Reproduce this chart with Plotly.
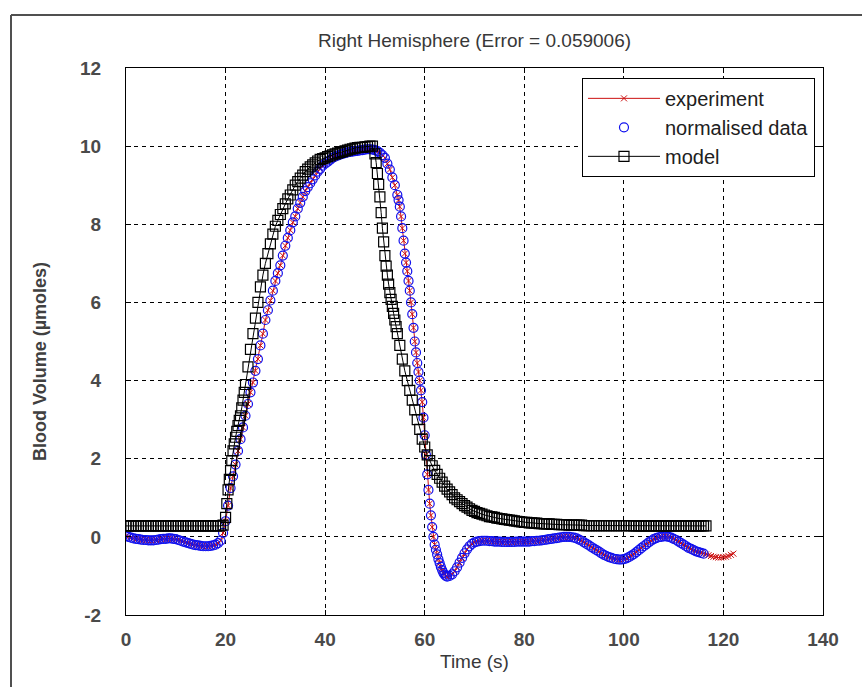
import plotly.graph_objects as go

# ---------------- data (base readings every 0.5 s) ----------------
sample_step = 0.5

normalised = [
    0.02, 0.00, -0.02, -0.04, -0.05, -0.06, -0.07, -0.08, -0.08, -0.09,   # 0-4.5
    -0.09, -0.09, -0.08, -0.07, -0.06, -0.05, -0.05, -0.04, -0.04, -0.05, # 5-9.5
    -0.06, -0.08, -0.10, -0.12, -0.14, -0.16, -0.18, -0.20, -0.21, -0.22, # 10-14.5
    -0.23, -0.24, -0.24, -0.24, -0.23, -0.22, -0.20, -0.16, -0.10, 0.10,  # 15-19.5
    0.40, 0.80, 1.25, 1.55, 1.85, 2.20, 2.50, 2.80, 3.10, 3.40,           # 20-24.5
    3.70, 3.95, 4.25, 4.55, 4.90, 5.20, 5.55, 5.80, 6.05, 6.30,           # 25-29.5
    6.55, 6.75, 6.95, 7.20, 7.45, 7.65, 7.85, 8.05, 8.20, 8.40,           # 30-34.5
    8.55, 8.70, 8.85, 8.95, 9.05, 9.15, 9.25, 9.35, 9.42, 9.50,           # 35-39.5
    9.55, 9.60, 9.65, 9.70, 9.73, 9.76, 9.78, 9.80, 9.82, 9.84,           # 40-44.5
    9.85, 9.86, 9.87, 9.88, 9.89, 9.90, 9.91, 9.92, 9.92, 9.91,           # 45-49.5
    9.90, 9.87, 9.83, 9.77, 9.70, 9.55, 9.40, 9.20, 9.00, 8.75,           # 50-54.5
    8.45, 7.90, 7.25, 6.80, 6.30, 5.70, 5.00, 4.45, 4.00, 3.45,           # 55-59.5
    2.60, 1.60, 0.85, 0.25, -0.20, -0.45, -0.67, -0.85, -0.97, -1.02,     # 60-64.5
    -1.00, -0.96, -0.88, -0.78, -0.66, -0.54, -0.42, -0.32, -0.24, -0.18, # 65-69.5
    -0.14, -0.12, -0.11, -0.10, -0.10, -0.10, -0.11, -0.11, -0.12, -0.12, # 70-74.5
    -0.12, -0.13, -0.13, -0.13, -0.13, -0.13, -0.13, -0.12, -0.12, -0.12, # 75-79.5
    -0.12, -0.12, -0.12, -0.11, -0.11, -0.10, -0.10, -0.09, -0.08, -0.07, # 80-84.5
    -0.06, -0.05, -0.04, -0.03, -0.02, -0.01, 0.00, 0.00, 0.00, -0.01,    # 85-89.5
    -0.02, -0.04, -0.07, -0.10, -0.14, -0.18, -0.22, -0.26, -0.30, -0.34, # 90-94.5
    -0.38, -0.42, -0.46, -0.49, -0.52, -0.54, -0.56, -0.57, -0.58, -0.58, # 95-99.5
    -0.57, -0.55, -0.52, -0.48, -0.44, -0.39, -0.34, -0.29, -0.24, -0.19, # 100-104.5
    -0.14, -0.10, -0.06, -0.03, -0.01, 0.00, 0.01, 0.01, 0.00, -0.02,     # 105-109.5
    -0.05, -0.08, -0.12, -0.16, -0.20, -0.24, -0.28, -0.31, -0.34, -0.37, # 110-114.5
    -0.39, -0.41, -0.43,                                                  # 115-116
]

# extra readings on the steep fall (times between the 0.5 s grid)
normalised_extra_t = [54.75, 55.25, 55.75, 56.25, 56.75, 57.25, 57.75, 58.25, 58.75, 59.25,
                      59.75, 60.25, 60.75, 61.25, 61.75, 62.25, 62.75, 63.25, 63.75, 64.25]
normalised_extra_v = [8.62, 8.20, 7.58, 7.02, 6.55, 6.00, 5.35, 4.72, 4.22, 3.75,
                      3.05, 2.10, 1.20, 0.55, 0.00, -0.33, -0.57, -0.77, -0.92, -1.00]

experiment_tail = [
    -0.45, -0.47, -0.49, -0.51, -0.52, -0.53, -0.53, -0.52, -0.51, -0.49, # 116.5-121
    -0.46, -0.43,                                                         # 121.5-122
]

model = [
    0.28, 0.28, 0.28, 0.28, 0.28, 0.28, 0.28, 0.28, 0.28, 0.28,           # 0-4.5
    0.28, 0.28, 0.28, 0.28, 0.28, 0.28, 0.28, 0.28, 0.28, 0.28,           # 5-9.5
    0.28, 0.28, 0.28, 0.28, 0.28, 0.28, 0.28, 0.28, 0.28, 0.28,           # 10-14.5
    0.28, 0.28, 0.28, 0.28, 0.28, 0.28, 0.28, 0.28, 0.28, 0.30,           # 15-19.5
    0.50, 1.20, 1.70, 2.20, 2.55, 2.85, 3.10, 3.50, 3.90, 4.35,           # 20-24.5
    4.80, 5.20, 5.60, 6.00, 6.40, 6.70, 7.00, 7.25, 7.50, 7.75,           # 25-29.5
    7.95, 8.10, 8.25, 8.40, 8.52, 8.65, 8.75, 8.88, 9.00, 9.09,           # 30-34.5
    9.18, 9.26, 9.35, 9.41, 9.47, 9.52, 9.57, 9.62, 9.66, 9.68,           # 35-39.5
    9.70, 9.73, 9.75, 9.78, 9.80, 9.82, 9.84, 9.86, 9.88, 9.90,           # 40-44.5
    9.92, 9.93, 9.95, 9.96, 9.97, 9.97, 9.98, 9.99, 10.00, 10.00,         # 45-49.5
    9.80, 9.30, 8.70, 7.90, 7.20, 6.70, 6.25, 5.90, 5.55, 5.20,           # 50-54.5
    4.90, 4.55, 4.25, 4.00, 3.75, 3.50, 3.25, 3.00, 2.75, 2.50,           # 55-59.5
    2.30, 2.10, 1.95, 1.82, 1.70, 1.60, 1.50, 1.40, 1.30, 1.22,           # 60-64.5
    1.15, 1.08, 1.00, 0.95, 0.90, 0.85, 0.80, 0.76, 0.72, 0.68,           # 65-69.5
    0.65, 0.62, 0.60, 0.58, 0.56, 0.54, 0.52, 0.51, 0.50, 0.48,           # 70-74.5
    0.47, 0.46, 0.45, 0.44, 0.43, 0.42, 0.41, 0.40, 0.39, 0.38,           # 75-79.5
    0.37, 0.37, 0.36, 0.36, 0.35, 0.35, 0.34, 0.34, 0.33, 0.33,           # 80-84.5
    0.33, 0.32, 0.32, 0.32, 0.31, 0.31, 0.31, 0.31, 0.30, 0.30,           # 85-89.5
    0.30, 0.30, 0.30, 0.30, 0.29, 0.29, 0.29, 0.29, 0.29, 0.29,           # 90-94.5
    0.29, 0.29, 0.29, 0.29, 0.29, 0.29, 0.29, 0.29, 0.29, 0.29,           # 95-99.5
    0.29, 0.29, 0.29, 0.29, 0.28, 0.28, 0.28, 0.28, 0.28, 0.28,           # 100-104.5
    0.28, 0.28, 0.28, 0.28, 0.28, 0.28, 0.28, 0.28, 0.28, 0.28,           # 105-109.5
    0.28, 0.28, 0.28, 0.28, 0.28, 0.28, 0.28, 0.28, 0.28, 0.28,           # 110-114.5
    0.28, 0.28, 0.28, 0.28,                                               # 115-116.5
]

# extra model readings on the steep rise and fall
model_extra_t = [20.25, 20.75, 21.25, 21.75, 22.25, 22.75, 23.25, 23.75,
                 50.25, 50.75, 51.25, 51.75, 52.25, 52.75, 53.25, 53.75, 54.25]
model_extra_v = [0.85, 1.47, 1.95, 2.38, 2.70, 2.98, 3.30, 3.70,
                 9.58, 9.02, 8.30, 7.55, 6.93, 6.47, 6.08, 5.72, 5.38]

x_ticks = [0, 20, 40, 60, 80, 100, 120, 140]
y_ticks = [-2, 0, 2, 4, 6, 8, 10, 12]
y_tick_text = ["-2", "0", "2", "4", "6", "8", "10", "12"]

title_text = "Right Hemisphere (Error = 0.059006)"
x_label = "Time (s)"
y_label = "Blood Volume (µmoles)"


def merge(base, extra_t, extra_v):
    pts = [(i * sample_step, v) for i, v in enumerate(base)] + list(zip(extra_t, extra_v))
    pts.sort(key=lambda p: p[0])
    return [p[0] for p in pts], [p[1] for p in pts]


t_normalised, v_normalised = merge(normalised, normalised_extra_t, normalised_extra_v)
t_experiment = t_normalised + [t_normalised[-1] + (i + 1) * sample_step for i in range(len(experiment_tail))]
v_experiment = v_normalised + experiment_tail
t_model, v_model = merge(model, model_extra_t, model_extra_v)

# ---------------- figure ----------------
fig = go.Figure()

fig.add_trace(go.Scatter(
    x=t_experiment, y=v_experiment, name="experiment", mode="lines+markers",
    legendgroup="a",
    line=dict(color="#cc1010", width=1),
    marker=dict(symbol="x-thin-open", size=6, color="#cc1010",
                line=dict(color="#cc1010", width=1)),
))
fig.add_trace(go.Scatter(
    x=t_normalised, y=v_normalised, name="normalised data", mode="markers",
    legendgroup="b",
    marker=dict(symbol="circle-open", size=9, color="#1010ee",
                line=dict(color="#1010ee", width=1.2)),
))
fig.add_trace(go.Scatter(
    x=t_model, y=v_model, name="model", mode="lines+markers",
    legendgroup="c",
    line=dict(color="#000000", width=1),
    marker=dict(symbol="square-open", size=10, color="#000000",
                line=dict(color="#000000", width=1.2)),
))

tick_font = dict(family="Liberation Sans", size=19, color="#4a4a4a", weight="bold")
axis_common = dict(
    showline=True, linecolor="#000000", linewidth=1, mirror="ticks",
    ticks="inside", ticklen=5, tickcolor="#000000", tickwidth=1,
    showgrid=True, gridcolor="#000000", gridwidth=1, griddash="4px,4px",
    zeroline=False, tickfont=tick_font,
)

fig.update_xaxes(range=[0, 140], tickvals=x_ticks, ticklabelstandoff=7, **axis_common)
fig.update_yaxes(range=[-2, 12], tickvals=y_ticks, ticktext=y_tick_text,
                 ticklabelstandoff=20, **axis_common)

fig.update_layout(
    width=862, height=687,
    margin=dict(l=126, r=39, t=68, b=72, autoexpand=False),
    paper_bgcolor="#ffffff", plot_bgcolor="#ffffff",
    showlegend=True,
    legend=dict(
        x=0.9885, y=0.982, xanchor="right", yanchor="top",
        bgcolor="#ffffff", bordercolor="#000000", borderwidth=1,
        font=dict(family="Liberation Sans", size=20, color="#202020"),
        itemwidth=72, tracegroupgap=0,
    ),
    title=dict(
        text=title_text, x=0.5, xref="paper", xanchor="center",
        y=1 - 40 / 687, yref="container", yanchor="middle",
        font=dict(family="Liberation Sans Narrow, Liberation Sans", size=19, color="#383838"),
    ),
    annotations=[
        dict(text=x_label, x=0.5, y=-(661 - 615) / 547, xref="paper", yref="paper",
             xanchor="center", yanchor="middle", showarrow=False,
             font=dict(family="Liberation Sans Narrow, Liberation Sans", size=19, color="#383838")),
        dict(text=y_label, x=-(126 - 40) / 697, y=1 - (362 - 68) / 547, xref="paper", yref="paper",
             xanchor="center", yanchor="middle", showarrow=False, textangle=-90,
             font=dict(family="Liberation Sans", size=18, color="#404040", weight="bold")),
    ],
    shapes=[
        dict(type="line", xref="paper", yref="paper",
             x0=-(126 - 11) / 697, x1=(880 - 126) / 697,
             y0=1 + (68 - 15) / 547, y1=1 + (68 - 15) / 547,
             line=dict(color="#505050", width=2)),
        dict(type="line", xref="paper", yref="paper",
             x0=-(126 - 11) / 697, x1=-(126 - 11) / 697,
             y0=1 + (68 - 15) / 547, y1=-(700 - 615) / 547,
             line=dict(color="#505050", width=2)),
    ],
)

fig.write_html("out.html")
